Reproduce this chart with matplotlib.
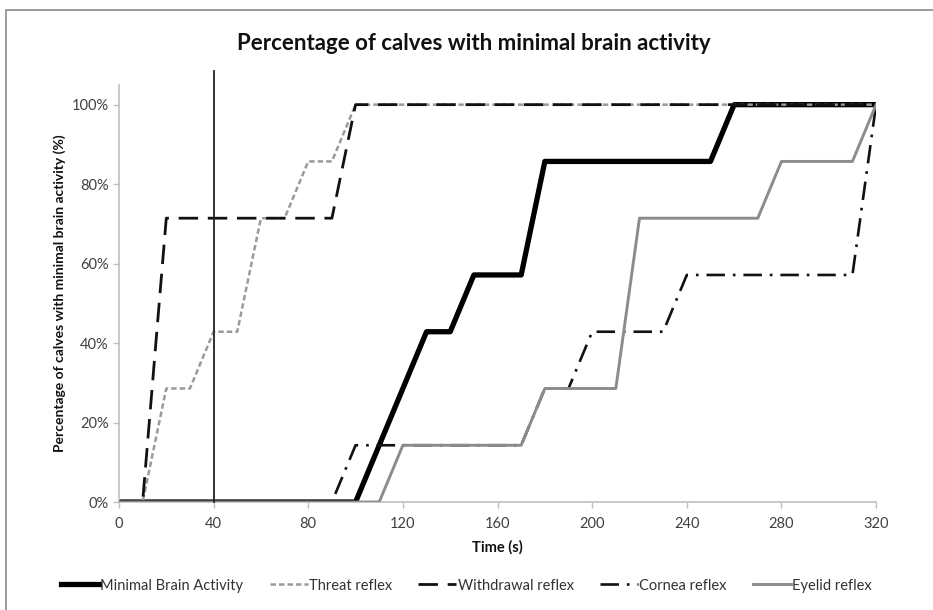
import matplotlib
matplotlib.use('Agg')
import matplotlib.pyplot as plt
from matplotlib.patches import Rectangle

plt.rcParams['font.family'] = ['Lato', 'DejaVu Sans']

# 数据：时间（秒）与百分比
time_s = [0, 10, 20, 30, 40, 50, 60, 70, 80, 90, 100, 110, 120, 130, 140, 150, 160,
          170, 180, 190, 200, 210, 220, 230, 240, 250, 260, 270, 280, 290, 300, 310, 320]

s = 100 / 7
minimal_brain = [0, 0, 0, 0, 0, 0, 0, 0, 0, 0, 0, 1*s, 2*s, 3*s, 3*s, 4*s, 4*s,
                 4*s, 6*s, 6*s, 6*s, 6*s, 6*s, 6*s, 6*s, 6*s, 100, 100, 100, 100, 100, 100, 100]
threat = [0, 0, 2*s, 2*s, 3*s, 3*s, 5*s, 5*s, 6*s, 6*s, 100, 100, 100, 100, 100, 100, 100,
          100, 100, 100, 100, 100, 100, 100, 100, 100, 100, 100, 100, 100, 100, 100, 100]
withdrawal = [0, 0, 5*s, 5*s, 5*s, 5*s, 5*s, 5*s, 5*s, 5*s, 100, 100, 100, 100, 100, 100, 100,
              100, 100, 100, 100, 100, 100, 100, 100, 100, 100, 100, 100, 100, 100, 100, 100]
cornea = [0, 0, 0, 0, 0, 0, 0, 0, 0, 0, 1*s, 1*s, 1*s, 1*s, 1*s, 1*s, 1*s,
          1*s, 2*s, 2*s, 3*s, 3*s, 3*s, 3*s, 4*s, 4*s, 4*s, 4*s, 4*s, 4*s, 4*s, 4*s, 100]
eyelid = [0, 0, 0, 0, 0, 0, 0, 0, 0, 0, 0, 0, 1*s, 1*s, 1*s, 1*s, 1*s,
          1*s, 2*s, 2*s, 2*s, 2*s, 5*s, 5*s, 5*s, 5*s, 5*s, 5*s, 6*s, 6*s, 6*s, 6*s, 100]

marker_time = 40
x_ticks = [0, 40, 80, 120, 160, 200, 240, 280, 320]
y_ticks = [0, 20, 40, 60, 80, 100]

fig = plt.figure(figsize=(9.33, 6.10), dpi=100)
ax = fig.add_axes([0.1275, 0.177, 0.8115, 0.684])

# 按系列顺序绘制（后画的在上层）
ax.plot(time_s, minimal_brain, color='black', lw=3.8, label='Minimal Brain Activity', zorder=2)
ax.plot(time_s, threat, color='#9a9a9a', lw=1.8, ls=(0, (2.2, 1.2)), label='Threat reflex', zorder=3)
ax.plot(time_s, withdrawal, color='#111111', lw=2.0, ls=(0, (7, 3.5)), label='Withdrawal reflex', zorder=4)
ax.plot(time_s, cornea, color='#111111', lw=1.9, ls=(0, (7, 3, 1, 3)), label='Cornea reflex', zorder=5)
ax.plot(time_s, eyelid, color='#8c8c8c', lw=2.1, label='Eyelid reflex', zorder=6)

# 垂直参考线（超出坐标区上沿）
ax.plot([marker_time, marker_time], [0, 108.5], color='#222222', lw=1.3, clip_on=False, zorder=7)

ax.set_xlim(0, 320)
ax.set_ylim(0, 105)
ax.set_xticks(x_ticks)
ax.set_yticks(y_ticks)
ax.set_yticklabels([f'{v}%' for v in y_ticks])

for side in ['top', 'right']:
    ax.spines[side].set_visible(False)
for side in ['left', 'bottom']:
    ax.spines[side].set_color('#bfbfbf')
    ax.spines[side].set_linewidth(1.2)
ax.tick_params(axis='both', colors='#bfbfbf', labelcolor='#404040', labelsize=10.5, length=4, width=1)
ax.tick_params(axis='x', pad=7)

ax.set_xlabel('Time (s)', fontsize=10.5, fontweight='bold', color='#111111', labelpad=6)
ax.set_ylabel('Percentage of calves with minimal brain activity (%)', fontsize=10,
              fontweight='bold', color='#111111', labelpad=4)

fig.text(0.508, 0.928, 'Percentage of calves with minimal brain activity', ha='center', va='center',
         fontsize=16, fontweight='bold', color='#111111')

handles, labels = ax.get_legend_handles_labels()
fig.legend(handles, labels, loc='center', bbox_to_anchor=(0.5, 0.04), ncol=5, frameon=False,
           fontsize=10.5, handlelength=2.6, handletextpad=0.1, columnspacing=1.8, labelcolor='#333333')

# 外框
fig.patches.append(Rectangle((6 / 933, -0.05), 1.0, 1 - 10 / 610 + 0.05, transform=fig.transFigure,
                             fill=False, edgecolor='#8a8a8a', lw=1.2))

plt.savefig('out.png', dpi=100)
